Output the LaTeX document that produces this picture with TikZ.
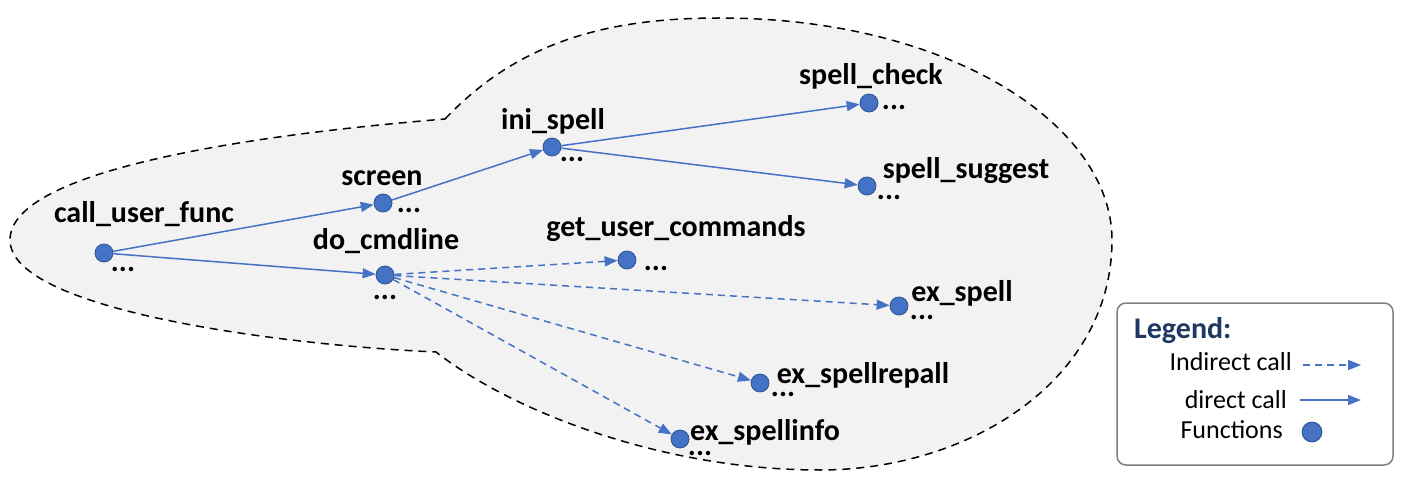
\documentclass[tikz,border=0pt]{standalone}
\usepackage{fontspec}
\setmainfont{Carlito}
\usetikzlibrary{arrows.meta}
\definecolor{nodeblue}{HTML}{4472C4}
\definecolor{nodeedge}{HTML}{2F528F}
\definecolor{blobfill}{HTML}{F2F2F2}
\definecolor{legendnavy}{HTML}{1F3864}
\definecolor{legendedge}{HTML}{7F7F7F}
\tikzset{
  func/.style={circle, fill=nodeblue, draw=nodeedge, line width=0.8pt, minimum size=18pt, inner sep=0pt},
  flabel/.style={font=\fontsize{30}{34}\selectfont\bfseries, anchor=base, inner sep=0pt},
  fdots/.style={font=\fontsize{30}{34}\selectfont\bfseries, anchor=base, inner sep=0pt},
  dcall/.style={draw=nodeblue, line width=1.5pt, -{Triangle[length=13pt,width=10pt]}},
  icall/.style={dcall, dash pattern=on 7pt off 5pt},
  legtext/.style={font=\fontsize{26}{30}\selectfont, anchor=base east, inner sep=0pt},
}
\begin{document}
\begin{tikzpicture}[x=1pt,y=-1pt]
\useasboundingbox (0,0) rectangle (1410,486);
% blob
\path[fill=blobfill, draw=black, line width=1.5pt, dash pattern=on 8pt off 6pt]
  (445,119) .. controls (520,40) and (610,18) .. (720,18)
  .. controls (950,18) and (1112,125) .. (1112,240)
  .. controls (1112,380) and (970,470) .. (820,470)
  .. controls (660,470) and (510,410) .. (436,352)
  .. controls (280,345) and (10,310) .. (10,240)
  .. controls (10,170) and (250,135) .. (445,119) -- cycle;
% function nodes
\node[func] (cuf) at (104,253) {};
\node[func] (scr) at (383,203) {};
\node[func] (doc) at (385,275) {};
\node[func] (ini) at (552,147) {};
\node[func] (chk) at (869,103) {};
\node[func] (sug) at (867,186) {};
\node[func] (guc) at (627,260) {};
\node[func] (exs) at (899,306) {};
\node[func] (exr) at (760,383) {};
\node[func] (exi) at (680,439) {};
% labels
\node[flabel] (lcuf) at (144,223) {call\_user\_func};
\node[flabel] (lscr) at (382,186) {screen};
\node[flabel] (ldoc) at (386,250) {do\_cmdline};
\node[flabel] (lini) at (553,130) {ini\_spell};
\node[flabel] (lchk) at (871,85) {spell\_check};
\node[flabel] (lsug) at (966,179) {spell\_suggest};
\node[flabel] (lguc) at (676,237) {get\_user\_commands};
\node[flabel] (lexs) at (962,301) {ex\_spell};
\node[flabel] (lexr) at (863,383) {ex\_spellrepall};
\node[flabel] (lexi) at (765,440) {ex\_spellinfo};
% dots
\node[fdots] (dcuf) at (123,272) {...};
\node[fdots] (dscr) at (409,213) {...};
\node[fdots] (ddoc) at (385,299) {...};
\node[fdots] (dini) at (572,162) {...};
\node[fdots] (dchk) at (894,110) {...};
\node[fdots] (dsug) at (889,200) {...};
\node[fdots] (dguc) at (656,271) {...};
\node[fdots] (dexs) at (922,319) {...};
\node[fdots] (dexr) at (783,396) {...};
\node[fdots] (dexi) at (700,455) {...};
% connectors
\draw[dcall] (cuf) -- (scr);
\draw[dcall] (cuf) -- (doc);
\draw[dcall] (scr) -- (ini);
\draw[dcall] (ini) -- (chk);
\draw[dcall] (ini) -- (sug);
\draw[icall] (doc) -- (guc);
\draw[icall] (doc) -- (exs);
\draw[icall] (doc) -- (exr);
\draw[icall] (doc) -- (exi);
% legend
\draw[legendedge, line width=1.5pt, rounded corners=9pt, fill=white] (1117,303) rectangle (1393,465);
\node[font=\fontsize{30}{34}\selectfont\bfseries, text=legendnavy, anchor=base west, inner sep=0pt] (legt) at (1134,338) {Legend:};
\node[legtext] (lind) at (1292,370) {Indirect call};
\node[legtext] (ldir) at (1287,408) {direct call};
\node[legtext] (lfun) at (1283,438) {Functions};
\coordinate (ia) at (1303,365);
\coordinate (ib) at (1361,365);
\coordinate (da) at (1300,400);
\coordinate (db) at (1361,400);
\draw[icall] (ia) -- (ib);
\draw[dcall] (da) -- (db);
\node[func, minimum size=20pt] (lcirc) at (1312,432) {};
\end{tikzpicture}
\end{document}
